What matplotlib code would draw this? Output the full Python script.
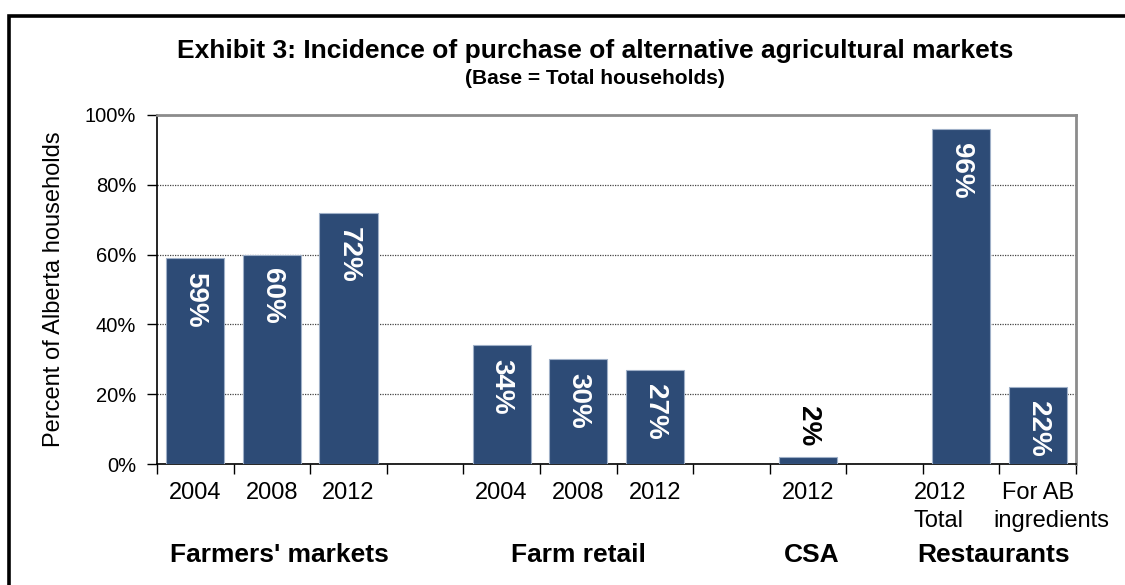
import matplotlib
matplotlib.use("Agg")
import matplotlib.pyplot as plt
from matplotlib.patches import Rectangle
from matplotlib.ticker import FixedLocator, PercentFormatter
from matplotlib.transforms import offset_copy

# Category slots (empty strings are spacer slots between groups)
categories = ["2004", "2008", "2012", "",
              "2004", "2008", "2012", "",
              "2012", "",
              "2012\nTotal", "For AB\ningredients"]
values = [59, 60, 72, None,
          34, 30, 27, None,
          2, None,
          96, 22]
groups = ["Farmers' markets", "Farm retail", "CSA", "Restaurants"]
group_pos = [1.6, 5.5, 8.55, 10.92]
yticks = [0, 20, 40, 60, 80, 100]

plt.rcParams["font.family"] = ["Liberation Sans", "DejaVu Sans"]

W, H, DPI = 1125, 585, 100
fig = plt.figure(figsize=(W / DPI, H / DPI), dpi=DPI)

# axes placement in pixels
left, right, top, bottom = 157, 1076, 115, 464
ax = fig.add_axes([left / W, 1 - bottom / H, (right - left) / W, (bottom - top) / H])

bar_color = "#2D4B76"
xs = [i + 0.5 for i, v in enumerate(values) if v is not None]
hs = [v for v in values if v is not None]
ax.bar(xs, hs, width=0.76, color=bar_color, edgecolor="#9FB0C8", linewidth=0.8, zorder=3)

for x, v in zip(xs, hs):
    if v >= 10:
        ax.annotate(f"{v}%", (x, v), xytext=(0, -10), textcoords="offset points",
                    rotation=-90, ha="center", va="top", color="white",
                    fontsize=20, fontweight="bold", zorder=4)
    else:
        ax.annotate(f"{v}%", (x, v), xytext=(0, 8), textcoords="offset points",
                    rotation=-90, ha="center", va="bottom", color="black",
                    fontsize=20, fontweight="bold", zorder=4)

ax.set_xlim(0, len(categories))
ax.set_ylim(0, 100)
ax.set_yticks(yticks)
ax.yaxis.set_major_formatter(PercentFormatter(decimals=0))
ax.yaxis.grid(True, linestyle=(0, (1, 1)), color="#444444", linewidth=0.9, zorder=1)

# slot boundaries as ticks
ax.xaxis.set_major_locator(FixedLocator(range(len(categories) + 1)))
ax.set_xticklabels([""] * (len(categories) + 1))
ax.tick_params(axis="x", which="major", length=7, width=1, direction="out", color="black")
ax.tick_params(axis="y", length=7, width=1, direction="out", labelsize=14.5, pad=8)

# category names, one text per line; the wrapped restaurant labels sit off-centre
line_shift_px = {(10, 0): -21, (10, 1): -23, (11, 1): 14}
xtrans = ax.get_xaxis_transform()
for i, cat in enumerate(categories):
    for j, line in enumerate(cat.split("\n")):
        dx = line_shift_px.get((i, j), 0) * 72 / DPI
        tr = offset_copy(xtrans, fig=fig, x=dx, y=-(29 + 28 * j) * 72 / DPI, units="points")
        ax.text(i + 0.5, 0, line, transform=tr, ha="center", va="center", fontsize=17)

for side in ["top", "right"]:
    ax.spines[side].set_color("#8C8C8C")
    ax.spines[side].set_linewidth(2)
ax.spines["left"].set_color("black")
ax.spines["bottom"].set_color("black")
ax.spines["left"].set_linewidth(1.2)
ax.spines["bottom"].set_linewidth(1.2)

ax.set_ylabel("Percent of Alberta households", fontsize=17, labelpad=14)

# group names below the category labels
for g, gx in zip(groups, group_pos):
    ax.text(gx, -(555 - bottom) / (bottom - top), g, transform=xtrans,
            ha="center", va="center", fontsize=19, fontweight="bold")

fig.text(595 / W, 1 - 51 / H, "Exhibit 3: Incidence of purchase of alternative agricultural markets",
         ha="center", va="center", fontsize=19, fontweight="bold")
fig.text(595 / W, 1 - 79 / H, "(Base = Total households)",
         ha="center", va="center", fontsize=15, fontweight="bold")

# outer frame of the exhibit
fig.patches.append(Rectangle((9 / W, -0.05), 1.2, 1 - 16 / H + 0.05, transform=fig.transFigure,
                             fill=False, edgecolor="black", linewidth=2.6))

fig.savefig("out.png", dpi=DPI)
